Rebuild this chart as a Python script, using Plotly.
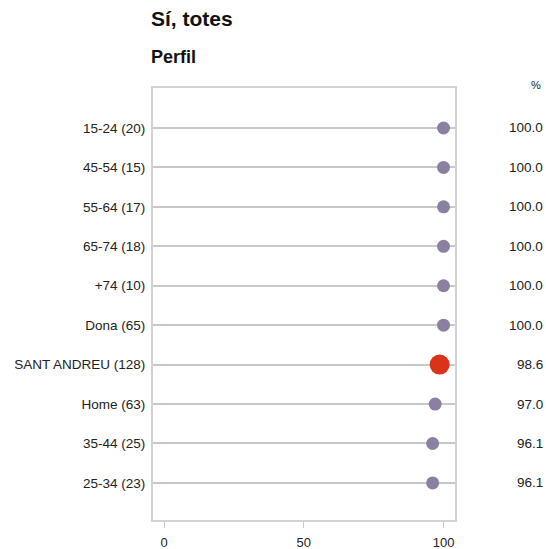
import plotly.graph_objects as go

categories = ["15-24 (20)", "45-54 (15)", "55-64 (17)", "65-74 (18)", "+74 (10)",
              "Dona (65)", "SANT ANDREU (128)", "Home (63)", "35-44 (25)", "25-34 (23)"]
values = [100.0, 100.0, 100.0, 100.0, 100.0, 100.0, 98.6, 97.0, 96.1, 96.1]
highlight = "SANT ANDREU (128)"
x_ticks = [0, 50, 100]

title_text = "Sí, totes"
subtitle_text = "Perfil"

PURPLE = "#8b80a1"
RED = "#d9341b"

colors = [RED if c == highlight else PURPLE for c in categories]
sizes = [20 if c == highlight else 13 for c in categories]

W, H = 546, 549
dom_l, dom_r, dom_t, dom_b = 153, 455, 88, 520

def px_x(px):
    return (px - dom_l) / (dom_r - dom_l)

def px_y(py):
    return (dom_b - py) / (dom_b - dom_t)

fig = go.Figure()
fig.add_trace(go.Scatter(
    x=values, y=categories, mode="markers",
    marker=dict(color=colors, size=sizes, opacity=1, line=dict(width=0)),
    hoverinfo="skip", showlegend=False, cliponaxis=False,
))

annotations = []
for c, v in zip(categories, values):
    annotations.append(dict(x=px_x(545), xref="paper", y=c, yref="y",
                            text=f"{v:.1f}", showarrow=False, xanchor="right",
                            yanchor="middle", font=dict(size=13.5, color="#222")))
annotations.append(dict(x=px_x(543), xref="paper", y=px_y(85), yref="paper",
                        text="%", showarrow=False, xanchor="right", yanchor="middle",
                        font=dict(size=11, color="#222")))
annotations.append(dict(x=px_x(149), xref="paper", y=px_y(18), yref="paper",
                        text=f"<b>{title_text}</b>", showarrow=False, xanchor="left",
                        yanchor="middle", font=dict(size=21, color="#111")))
annotations.append(dict(x=px_x(149), xref="paper", y=px_y(57), yref="paper",
                        text=f"<b>{subtitle_text}</b>", showarrow=False, xanchor="left",
                        yanchor="middle", font=dict(size=18, color="#111")))

fig.update_layout(
    width=W, height=H,
    margin=dict(l=dom_l, r=W - dom_r, t=dom_t, b=H - dom_b, pad=0),
    paper_bgcolor="white", plot_bgcolor="white",
    font=dict(family="Liberation Sans, Arial, sans-serif", size=12, color="#222"),
    annotations=annotations,
    xaxis=dict(range=[-3.95, 104.1], tickvals=x_ticks, ticks="outside", ticklen=6,
               tickcolor="#c8c8c8", tickwidth=1, showgrid=False, zeroline=False,
               showline=True, linecolor="#d2d2d2", linewidth=2, mirror=True,
               ticklabelstandoff=3, automargin=False,
               tickfont=dict(size=13, color="#222"), fixedrange=True),
    yaxis=dict(type="category", categoryorder="array", categoryarray=categories,
               range=[9.94, -1.014], showgrid=True, gridcolor="#c8c8c8", gridwidth=2,
               zeroline=False, showline=True, linecolor="#d2d2d2", linewidth=2,
               mirror=True, ticks="", ticklabelstandoff=3, automargin=False,
               tickfont=dict(size=13.5, color="#222"), fixedrange=True),
)

fig.write_html(
    "out.html",
    config={"displayModeBar": False},
    post_script="document.body.style.margin='0';document.body.style.overflow='hidden';",
)
